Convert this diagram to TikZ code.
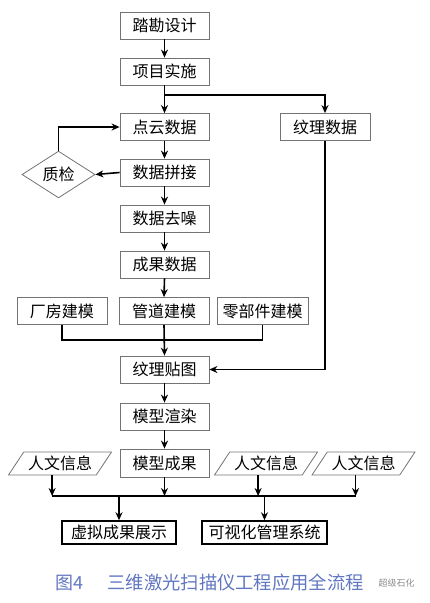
\documentclass[tikz,border=0pt]{standalone}
\usepackage{fontspec}
\setmainfont{Noto Sans CJK SC}
\usepackage{xcolor}
\usetikzlibrary{arrows.meta}
\usetikzlibrary{shapes.geometric}
\definecolor{captionblue}{RGB}{96,118,192}

\begin{document}
\begin{tikzpicture}[x=1pt,y=-1pt,
    stepbox/.style={draw=black!55,line width=0.8pt,minimum width=89pt,minimum height=27pt,inner sep=0pt,font=\fontsize{16}{16}\selectfont},
    endbox/.style={draw=black,line width=1.5pt,minimum height=23pt,inner sep=0pt,font=\fontsize{16}{16}\selectfont},
    checkbox/.style={diamond,draw=black!55,line width=0.8pt,minimum width=73pt,minimum height=43pt,inner sep=0pt,font=\fontsize{16}{16}\selectfont},
    infobox/.style={trapezium,trapezium left angle=48,trapezium right angle=132,trapezium stretches=true,draw=black!55,line width=0.8pt,minimum width=103pt,minimum height=23pt,inner sep=0pt,font=\fontsize{16}{16}\selectfont},
    flow/.style={line width=1.6pt,-{Stealth[length=8pt,width=7pt]}},
    busline/.style={line width=1.6pt},
    thinline/.style={line width=1.2pt}]
            \useasboundingbox (0,0) rectangle (429,603);

            % Main column
            \node [stepbox] (kancha) at (164.5,25.5) {踏勘设计};
            \node [stepbox] (shishi) at (164.5,71.5) {项目实施};
            \node [stepbox] (dianyun) at (164.5,127) {点云数据};
            \node [stepbox,minimum width=90pt] (wenli) at (325,127) {纹理数据};
            \node [stepbox] (pinjie) at (164.5,172.5) {数据拼接};
            \node [checkbox] (zhijian) at (58.5,174.5) {质检};
            \node [stepbox] (quzao) at (164.5,218.5) {数据去噪};
            \node [stepbox] (chengguo) at (164.5,264.5) {成果数据};

            % Modelling boxes
            \node [stepbox,minimum width=90pt] (changfang) at (62,311) {厂房建模};
            \node [stepbox,minimum width=90pt] (guandao) at (164,311) {管道建模};
            \node [stepbox,minimum width=91pt] (lingbujian) at (262.5,311) {零部件建模};

            \node [stepbox] (tietu) at (164.5,369.5) {纹理贴图};
            \node [stepbox] (xuanran) at (164.5,416.5) {模型渲染};
            \node [stepbox,minimum height=28pt] (moxing) at (164.5,463) {模型成果};

            % Human information inputs
            \node [infobox] (renwena) at (60,463.5) {人文信息};
            \node [infobox] (renwenb) at (266,463.5) {人文信息};
            \node [infobox] (renwenc) at (363.5,463.5) {人文信息};

            % Final outputs
            \node [endbox,minimum width=114pt] (zhanshi) at (119,532.5) {虚拟成果展示};
            \node [endbox,minimum width=125pt] (xitong) at (264.5,532.5) {可视化管理系统};

            % Junction points
            \coordinate (fork) at (164.5,95);
            \coordinate (loop) at (58.5,127);
            \coordinate (merge) at (164,340);
            \coordinate (bus) at (164.5,496);

            % Connectors of the upper part
            \draw [flow] (kancha) -- (shishi);
            \draw [flow] (shishi) -- (dianyun);
            \draw [flow] (shishi.south) -- (fork) -| (wenli.north);
            \draw [flow] (dianyun) -- (pinjie);
            \draw [flow] (pinjie.west) -- (zhijian.east);
            \draw [flow] (zhijian.north) -- (loop) -- (dianyun.west);
            \draw [flow] (pinjie) -- (quzao);
            \draw [flow] (quzao) -- (chengguo);
            \draw [flow] (chengguo.south) -- (guandao.north);

            % Merging the models
            \draw [thinline] (changfang.south) |- (merge) -| (lingbujian.south);
            \draw [flow] (guandao.south) -- (tietu.north);
            \draw [flow] (wenli.south) |- (tietu.east);
            \draw [flow] (tietu) -- (xuanran);
            \draw [flow] (xuanran) -- (moxing);

            % Bus to the outputs
            \draw [flow] (renwena.bottom side) -- (renwena.bottom side |- bus);
            \draw [flow] (moxing.south) -- (bus);
            \draw [flow] (renwenb.bottom side) -- (renwenb.bottom side |- bus);
            \draw [flow] (renwenc.bottom side) -- (renwenc.bottom side |- bus);
            \draw [busline] (renwena.bottom side |- bus) -- (renwenc.bottom side |- bus);
            \draw [flow] (zhanshi.north |- bus) -- (zhanshi.north);
            \draw [flow] (xitong.north |- bus) -- (xitong.north);

            % Caption
            \node [anchor=west,text=captionblue,font=\fontsize{18}{18}\selectfont] (tuhao) at (52,583) {图4};
            \node [anchor=west,text=captionblue,font=\fontsize{18.3}{18.3}\selectfont] (timing) at (104,583) {三维激光扫描仪工程应用全流程};
            \node [anchor=west,text=black!45,font=\fontsize{9}{9}\selectfont] (shuiyin) at (375,583) {超级石化};
\end{tikzpicture}
\end{document}
